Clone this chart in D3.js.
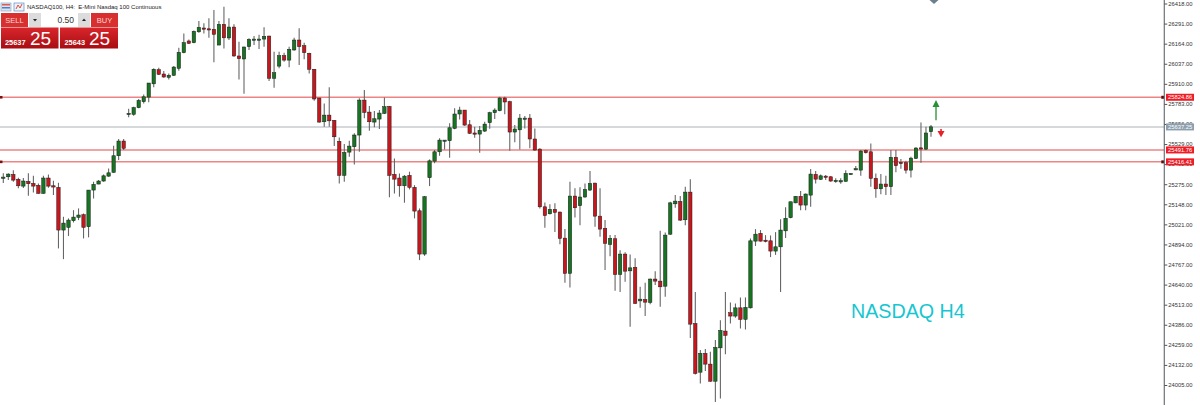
<!DOCTYPE html>
<html><head><meta charset="utf-8">
<style>html,body{margin:0;padding:0;background:#fff;overflow:hidden}svg{display:block}</style>
<script src="https://cdn.jsdelivr.net/npm/d3@7/dist/d3.min.js"></script>
</head><body><svg id="c" width="1200" height="405"></svg>
<script>
const opens=[25314,25322,25337,25306,25263,25293,25280,25268,25217,25314,
25265,25255,24985,25002,25044,25065,25082,25006,25238,25276,
25295,25326,25350,25455,25548,25717,25717,25759,25797,25826,
25910,25999,25972,25951,25964,26008,26107,26181,26170,26239,
26263,26258,26255,26155,26286,26200,26269,26086,26067,26145,
26189,26187,26193,26212,25945,26022,26088,26060,26124,26187,
26151,26103,26002,25820,25670,25712,25679,25546,25331,25478,
25512,25586,25807,25731,25668,25687,25723,25767,25337,25314,
25265,25331,25255,25107,24833,25316,25421,25480,25550,25550,
25628,25719,25744,25651,25599,25592,25611,25664,25727,25740,
25820,25797,25605,25619,25687,25693,25561,25497,25132,25088,
25116,25099,24934,24711,25200,25139,25194,25238,25282,25073,
24996,24894,24930,24704,24833,24727,24749,24537,24546,24527,
24675,24662,24630,24959,25151,25166,25050,25225,24394,24086,
24205,24137,24029,24240,24346,24462,24441,24493,24420,24493,
24915,24964,24921,24917,24852,24879,24980,25063,25157,25198,
25143,25206,25337,25306,25326,25322,25293,25293,25293,25339,
25366,25364,25487,25480,25312,25246,25276,25259,25445,25413,
25411,25364,25438,25505,25497,25607];
const closes=[25320,25339,25301,25265,25295,25278,25263,25217,25314,25263,
25257,24985,25029,25048,25067,25080,25002,25238,25274,25295,
25328,25347,25455,25548,25502,25723,25759,25805,25828,25915,
26002,25970,25953,25964,26016,26109,26170,26166,26242,26267,
26257,26252,26223,26286,26201,26269,26086,26069,26143,26191,
26193,26193,26210,25945,25980,26088,26060,26128,26187,26145,
26107,26002,25814,25668,25712,25676,25575,25331,25476,25516,
25586,25807,25729,25670,25689,25725,25765,25331,25307,25265,
25326,25255,25105,24833,25196,25423,25480,25554,25554,25632,
25719,25744,25649,25597,25592,25616,25655,25727,25744,25820,
25795,25605,25624,25693,25693,25561,25491,25132,25077,25116,
25097,24932,24711,25200,25126,25194,25242,25280,25073,24991,
24901,24932,24704,24833,24725,24746,24521,24548,24529,24675,
24662,24626,24953,25157,25168,25048,25225,24390,24078,24205,
24137,24029,24243,24350,24319,24441,24493,24420,24496,24917,
24959,24915,24913,24852,24879,24985,25059,25164,25198,25143,
25213,25339,25307,25328,25322,25295,25299,25297,25343,25343,
25373,25485,25474,25312,25246,25276,25259,25445,25392,25407,
25364,25440,25504,25499,25599,25638];
const highs=[25345,25345,25364,25316,25314,25345,25328,25280,25328,25337,
25297,25284,25069,25059,25111,25122,25090,25238,25290,25301,
25337,25375,25518,25561,25561,25752,25765,25814,25843,25915,
26008,26012,25991,25976,26022,26138,26229,26191,26248,26307,
26293,26324,26377,26307,26398,26324,26286,26176,26145,26198,
26212,26220,26267,26214,26113,26113,26107,26145,26201,26261,
26170,26107,26002,25822,25786,25888,25681,25571,25529,25550,
25597,25818,25871,25769,25738,25744,25824,25769,25438,25343,
25333,25354,25269,25122,25200,25432,25491,25565,25554,25660,
25755,25765,25744,25681,25638,25643,25670,25733,25755,25828,
25828,25803,25649,25719,25706,25719,25628,25502,25160,25149,
25154,25101,24991,25290,25249,25255,25280,25358,25284,25249,
25048,24953,24953,24858,24844,24831,24806,24626,24651,24679,
24725,24980,24970,25164,25206,25200,25259,25306,24594,24226,
24232,24215,24289,24415,24594,24527,24521,24559,24559,24932,
24991,24985,24953,24951,24972,25054,25130,25164,25200,25232,
25217,25371,25358,25337,25333,25326,25312,25312,25364,25343,
25390,25491,25495,25533,25343,25339,25328,25491,25491,25434,
25423,25449,25508,25666,25638,25649];
const lows=[25282,25301,25290,25249,25251,25202,25223,25214,25214,25252,
25206,24869,24801,24947,25033,25048,24932,24939,25185,25274,
25290,25322,25347,25428,25491,25698,25708,25755,25786,25793,
25888,25965,25948,25938,25959,25993,26103,26162,26166,26233,
26229,26201,26046,26155,26134,26187,26081,25938,25847,26124,
26155,26130,26145,25928,25885,26008,26050,26014,26119,26029,
26065,25976,25803,25664,25638,25638,25516,25280,25290,25449,
25400,25480,25692,25613,25635,25624,25719,25192,25217,25196,
25158,25242,25059,24795,24822,25263,25407,25455,25495,25442,
25622,25685,25645,25592,25569,25474,25605,25626,25687,25736,
25717,25487,25540,25495,25628,25502,25487,25122,25000,25084,
24972,24896,24651,24622,25065,25016,25189,25232,25006,24942,
24732,24820,24601,24594,24658,24373,24517,24493,24441,24515,
24637,24500,24563,24953,25126,25042,25016,24303,24072,24015,
24093,24025,23898,23920,24200,24394,24430,24363,24356,24489,
24884,24912,24907,24814,24828,24594,24934,25059,25154,25111,
25111,25132,25280,25301,25301,25290,25284,25278,25290,25337,
25363,25328,25470,25259,25189,25211,25206,25206,25350,25373,
25343,25318,25434,25411,25491,25575];
const tickPrices=[26418,26291,26164,26037,25910,25783,25656,25529,25402,25275,25148,25021,24894,24767,24640,24513,24386,24259,24132,24005];
const redLevels=[25824.86,25491.76,25416.41];
const greyLevel=[25637.25];
const sellQuote=["25637","25"];
const buyQuote=["25643","25"];
const lotSize="0.50";
const titleText="NASDAQ100, H4:  E-Mini Nasdaq 100 Continuous";
const watermark="NASDAQ H4";

const svg=d3.select("#c");
const defs=svg.append("defs");
const grad=defs.append("linearGradient").attr("id","rg").attr("x1",0).attr("x2",0).attr("y1",0).attr("y2",1);
grad.append("stop").attr("offset","0").attr("stop-color","#d8262c");
grad.append("stop").attr("offset","1").attr("stop-color","#a80d12");
defs.append("filter").attr("id","soft").attr("x","-2%").attr("y","-2%").attr("width","104%").attr("height","104%")
  .append("feGaussianBlur").attr("stdDeviation",0.35);

const axisX=1164.3;
const x=d3.scaleLinear().domain([0,185]).range([3.3,931]);
const y=d3.scaleLinear().domain([24005,26418]).range([385,3.5]);
const data=opens.map((o,i)=>({i,o,c:closes[i],h:highs[i],l:lows[i]}));

// level lines
const lv=svg.append("g");
lv.selectAll(".g").data(greyLevel).join("line").attr("x1",0).attr("x2",axisX)
  .attr("y1",d=>y(d)).attr("y2",d=>y(d)).attr("stroke","#c8ccd0").attr("stroke-width",1.6);
lv.selectAll(".r").data(redLevels).join("line").attr("x1",0).attr("x2",axisX)
  .attr("y1",d=>y(d)).attr("y2",d=>y(d)).attr("stroke","#ee8484").attr("stroke-width",1.5);
lv.selectAll(".m").data([redLevels[0],redLevels[2]]).join("rect").attr("x",0).attr("width",2.5)
  .attr("y",d=>y(d)-1.3).attr("height",2.6).attr("fill","#7a1010");
lv.selectAll(".n").data([redLevels[0],redLevels[2]]).join("rect").attr("x",axisX-3).attr("width",3)
  .attr("y",d=>y(d)-1.5).attr("height",3).attr("fill","#5a0a0a");

// candles
const cg=svg.append("g").attr("filter","url(#soft)");
const up=d=>d.c>=d.o;
cg.selectAll("line").data(data).join("line")
  .attr("x1",d=>x(d.i)).attr("x2",d=>x(d.i)).attr("y1",d=>y(d.h)).attr("y2",d=>y(d.l))
  .attr("stroke","#666").attr("stroke-width",1.1);
cg.selectAll("rect").data(data).join("rect")
  .attr("x",d=>x(d.i)-1.7).attr("width",3.4)
  .attr("y",d=>y(Math.max(d.o,d.c))).attr("height",d=>Math.max(1.2,Math.abs(y(d.o)-y(d.c))))
  .attr("fill",d=>up(d)?"#187420":"#c8161c").attr("stroke","#1b1b1b").attr("stroke-width",0.5);

// axis
svg.append("line").attr("x1",axisX).attr("x2",axisX).attr("y1",0).attr("y2",405).attr("stroke","#6e7276").attr("stroke-width",1.2);
const ax=svg.append("g").attr("transform",`translate(${axisX},0)`)
  .call(d3.axisRight(y).tickValues(tickPrices).tickSize(3).tickPadding(1).tickFormat(d3.format(".2f")));
ax.select(".domain").remove();
ax.selectAll("line").attr("stroke","#555");
ax.selectAll("text").attr("font-family","Liberation Sans").attr("font-size",5.8).attr("fill","#333");

// level labels
function tag(p,fill){
  const yy=y(p);
  svg.append("rect").attr("x",1166).attr("y",yy-3.5).attr("width",28).attr("height",7).attr("fill",fill);
  svg.append("text").attr("x",1168).attr("y",yy+2).attr("font-family","Liberation Sans").attr("font-size",5.8).attr("fill","#fff").text(p.toFixed(2));
}
redLevels.forEach(p=>tag(p,"#ee1c25"));
greyLevel.forEach(p=>tag(p,"#8d9fae"));

// arrows
const arrowsUp=[{i:186,from:25680,to:25764,tip:25808}];
const arrowsDn=[{i:187,from:25624,to:25611,tip:25572}];
const ag=svg.append("g");
arrowsUp.forEach(a=>{const px=x(a.i);
  ag.append("line").attr("x1",px).attr("x2",px).attr("y1",y(a.from)).attr("y2",y(a.to)).attr("stroke","#4fa45a").attr("stroke-width",1.6);
  ag.append("path").attr("d",d3.line()([[px,y(a.tip)],[px+3.5,y(a.to)],[px-3.5,y(a.to)]])+"Z").attr("fill","#2a8f37");});
arrowsDn.forEach(a=>{const px=x(a.i);
  ag.append("line").attr("x1",px).attr("x2",px).attr("y1",y(a.from)).attr("y2",y(a.to)).attr("stroke","#e8202a").attr("stroke-width",1.6);
  ag.append("path").attr("d",d3.line()([[px,y(a.tip)],[px+3.5,y(a.to)],[px-3.5,y(a.to)]])+"Z").attr("fill","#e8202a");});
ag.append("path").attr("d",d3.line()([[929.5,0],[934,4],[938.5,0]])+"Z").attr("fill","#6d7f8d");

// watermark
svg.append("text").attr("x",851).attr("y",318).attr("font-family","Liberation Sans").attr("font-size",19.7).attr("fill","#16c6d0").text(watermark);

// header icons and title
const ic=svg.append("g");
ic.append("rect").attr("x",1).attr("y",3).attr("width",10).attr("height",8).attr("fill","#d8e4f2").attr("stroke","#8fa7c4").attr("stroke-width",.7);
ic.append("rect").attr("x",2).attr("y",4).attr("width",8).attr("height",1.5).attr("fill","#e25b4b");
ic.append("rect").attr("x",2).attr("y",7).attr("width",8).attr("height",1.5).attr("fill","#4f7fc2");
ic.append("rect").attr("x",14).attr("y",3).attr("width",10).attr("height",8).attr("fill","#eef3fa").attr("stroke","#5d8ac7").attr("stroke-width",.7);
ic.append("path").attr("d","M16 9L18 5L20 8L22 4").attr("fill","none").attr("stroke","#d8503c").attr("stroke-width",1);
svg.append("text").attr("x",27).attr("y",9).attr("font-family","Liberation Sans").attr("font-size",6).attr("fill","#222").attr("xml:space","preserve").text(titleText);

// trade panel
const tp=svg.append("g");
tp.append("rect").attr("x",1).attr("y",13).attr("width",27).attr("height",14).attr("fill","#d8302f");
tp.append("rect").attr("x",91).attr("y",13).attr("width",27).attr("height",14).attr("fill","#d8302f");
tp.append("text").attr("x",14.5).attr("y",22.5).attr("text-anchor","middle").attr("font-family","Liberation Sans").attr("font-size",7.5).attr("fill","#f6d6d6").text("SELL");
tp.append("text").attr("x",104.5).attr("y",22.5).attr("text-anchor","middle").attr("font-family","Liberation Sans").attr("font-size",7.5).attr("fill","#f6d6d6").text("BUY");
tp.append("rect").attr("x",29).attr("y",13).attr("width",61).attr("height",14).attr("fill","#fff");
tp.append("rect").attr("x",29).attr("y",13).attr("width",12).attr("height",14).attr("fill","#dcdcdc");
tp.append("rect").attr("x",78).attr("y",13).attr("width",12).attr("height",14).attr("fill","#dcdcdc");
tp.append("path").attr("d",d3.line()([[33,19],[37,19],[35,21.5]])+"Z").attr("fill","#222");
tp.append("path").attr("d",d3.line()([[82,21],[86,21],[84,18.5]])+"Z").attr("fill","#222");
tp.append("text").attr("x",74).attr("y",22.8).attr("text-anchor","end").attr("font-family","Liberation Sans").attr("font-size",8.5).attr("fill","#333").text(lotSize);
[[1,57.5,sellQuote,5,30],[60,58,buyQuote,64.5,89]].forEach(([px,w,q,t1,t2])=>{
  tp.append("rect").attr("x",px).attr("y",27.5).attr("width",w).attr("height",21).attr("fill","url(#rg)");
  tp.append("text").attr("x",t1).attr("y",45).attr("font-family","Liberation Sans").attr("font-weight","bold").attr("font-size",7.4).attr("fill","#fff").text(q[0]);
  tp.append("text").attr("x",t2).attr("y",45).attr("font-family","Liberation Sans").attr("font-size",19).attr("fill","#fff").text(q[1]);
});
</script></body></html>
